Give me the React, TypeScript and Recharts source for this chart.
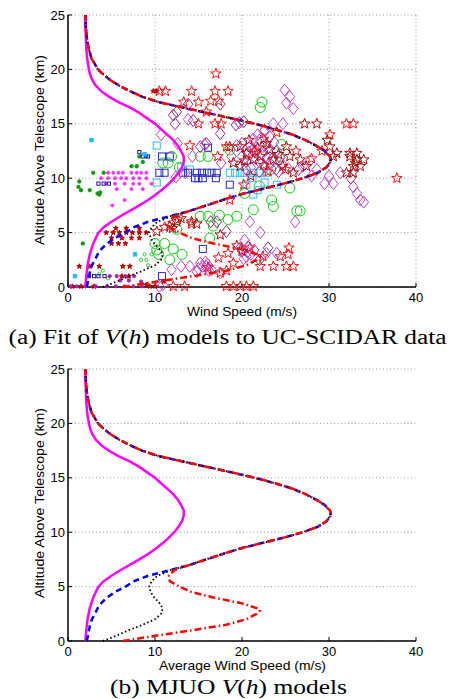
import React from "react";
import { CartesianGrid, Scatter, ScatterChart, XAxis, YAxis } from "recharts";

// model profiles: altitude (km) vs wind speed (m/s)
const upperAlt = [6.5, 7, 7.5, 8, 8.5, 9, 9.5, 10, 10.5, 11, 11.5, 11.8, 12, 12.5, 13, 13.5, 14, 14.5, 15, 15.5, 16, 16.5, 17, 17.5, 18, 18.5, 19, 19.5, 20, 21, 22, 23, 24, 25];
const upperSpeed = [11.7, 14.0, 15.9, 17.8, 19.8, 22.3, 24.8, 27.0, 28.7, 29.7, 30.15, 30.2, 30.1, 29.5, 28.5, 27.3, 25.8, 23.8, 21.5, 18.8, 16.0, 13.2, 10.4, 8.5, 7.1, 5.9, 4.9, 4.1, 3.45, 2.7, 2.35, 2.15, 2.05, 2.0];

const blueLowAlt = [0, 0.5, 1, 1.5, 2, 2.5, 3, 3.5, 4, 4.5, 5, 5.5, 6];
const blueLowSpeed = [2.15, 2.3, 2.4, 2.55, 2.75, 3.1, 3.4, 3.85, 4.5, 5.4, 6.6, 7.6, 9.2];

const blackLowAlt = [0, 0.5, 1, 1.5, 2, 2.5, 3, 3.5, 4, 4.5, 5, 5.5, 6, 6.3];
const blackLowSpeed = [4.0, 5.6, 7.0, 8.6, 10.0, 10.7, 10.9, 10.5, 9.9, 9.5, 9.35, 9.6, 10.3, 11.3];

const redLowAlt = [0, 0.5, 1, 1.5, 2, 2.5, 2.8, 3, 3.5, 4, 4.5, 5, 5.5, 6, 6.5, 7];
const redLowSpeed = [6.3, 10.2, 14.4, 18.2, 20.5, 21.7, 22.05, 21.8, 19.8, 16.7, 14.2, 12.8, 11.7, 11.6, 12.2, 14.0];

const magentaAlt = [0, 1, 2, 3, 4, 4.5, 5, 5.5, 6, 6.5, 7, 7.5, 8, 8.5, 9, 9.5, 10, 10.5, 11, 11.5, 12, 12.5, 13, 13.5, 14, 14.5, 15, 15.5, 16, 16.5, 17, 17.5, 18, 18.5, 19, 19.5, 20, 21, 22, 23, 24, 25];
const magentaSpeed = [2.0, 2.1, 2.25, 2.5, 2.9, 3.2, 3.5, 4.1, 5.0, 6.0, 7.1, 8.2, 9.2, 10.1, 10.9, 11.6, 12.2, 12.7, 13.1, 13.3, 13.3, 13.0, 12.6, 12.1, 11.4, 10.7, 10.0, 9.1, 8.2, 7.1, 5.8, 4.7, 3.8, 3.2, 2.8, 2.55, 2.4, 2.2, 2.1, 2.05, 2.0, 2.0];

// UC-SCIDAR measurements: [speed, altitude]
const redStars = [[17.0, 19.6], [10.5, 18.0], [11.2, 18.0], [14.2, 18.0], [16.9, 18.0], [18.4, 18.0], [13.3, 17.0], [15.0, 17.0], [16.4, 17.1], [17.3, 17.1], [15.9, 16.1], [15.0, 15.0], [16.9, 15.0], [17.6, 15.0], [14.0, 13.0], [17.2, 12.0], [18.2, 12.9], [32.0, 15.0], [32.8, 15.0], [30.1, 14.0], [37.8, 10.0], [18.6, 8.0], [25.4, 3.6], [25.3, 3.0], [22.1, 1.9], [23.6, 1.9], [25.1, 1.9], [25.9, 1.9], [18.4, 3.1], [17.3, 2.7], [19.0, 2.2], [17.5, 1.3], [18.2, 1.5], [12.1, 0.06], [13.4, 0.06], [18.2, 0.06], [19.0, 0.06], [19.8, 0.06], [20.5, 0.06], [21.3, 0.06], [22.4, 2.8], [24.4, 2.8], [20.9, 3.6], [16.1, 1.8], [14.2, 5.8], [12.6, 6.2], [22.5, 13.6], [24.0, 14.2], [21.5, 12.5], [26.2, 12.5], [23.0, 10.6], [25.0, 10.8], [28.0, 11.8], [29.2, 12.5], [20.2, 9.4], [11.1, 5.5]];
const darkRedStars = [[12.5, 6.0], [11.7, 5.6], [14.2, 6.0], [14.8, 5.8], [10.2, 5.1], [12.0, 5.4], [13.0, 6.3], [19.8, 12.9], [20.5, 12.3], [21.3, 11.7], [19.0, 11.4], [19.8, 11.1], [22.1, 12.0], [22.8, 13.2], [23.6, 11.7], [24.7, 11.1], [25.5, 12.0], [25.9, 10.5], [26.7, 11.7], [27.4, 11.1], [25.1, 12.9], [32.4, 12.0], [33.2, 11.7], [34.0, 11.7], [32.8, 11.1], [33.6, 11.1], [32.0, 10.5], [32.8, 10.5], [32.4, 12.3], [33.2, 12.3], [33.0, 11.4], [30.5, 12.0], [30.9, 12.3], [30.1, 12.9], [27.2, 15.0], [28.6, 15.0], [29.8, 13.5], [18.6, 12.9], [21.0, 10.2], [23.2, 12.6], [20.8, 13.5], [17.5, 4.8], [20.0, 3.3], [19.4, 3.8], [21.8, 12.8], [22.5, 11.2], [24.2, 12.2], [20.3, 11.6]];
const smallRedStars = [[4.4, 5.0], [5.2, 5.0], [5.9, 5.0], [6.7, 5.0], [7.4, 5.0], [8.2, 5.0], [9.0, 5.0], [5.0, 4.5], [6.2, 4.5], [7.3, 4.5], [8.2, 4.5], [5.0, 4.0], [5.8, 4.0], [6.6, 4.0], [5.5, 5.4], [6.7, 5.4], [8.2, 5.4], [1.3, 1.9], [2.5, 1.9], [3.6, 1.9], [6.3, 1.9], [7.1, 1.9], [6.2, 1.0], [7.0, 1.0], [9.8, 18.0], [10.2, 18.0], [0.5, 0.06], [1.5, 0.06], [3.0, 0.06], [9.4, 0.06], [10.0, 0.06], [11.0, 0.5], [9.0, 0.2]];
const magentaDots = [[4.6, 10.5], [5.2, 10.5], [5.8, 10.5], [6.3, 10.5], [7.3, 10.5], [7.9, 10.5], [8.4, 10.5], [9.0, 10.5], [3.8, 10.0], [4.6, 10.0], [5.4, 10.0], [6.1, 10.0], [6.7, 10.0], [7.5, 10.0], [8.2, 10.0], [9.0, 10.0], [4.4, 9.5], [5.4, 9.5], [6.5, 9.5], [7.5, 9.5], [8.2, 9.5], [9.6, 9.5], [5.6, 9.0], [7.3, 9.0], [8.6, 9.0], [6.5, 8.0], [5.1, 7.5]];
const greenDots = [[1.2, 9.2], [1.5, 8.9], [1.3, 9.7], [2.5, 8.9], [2.9, 10.5], [3.6, 8.5], [3.7, 8.7], [4.1, 10.5], [1.7, 4.0], [7.3, 11.1], [7.9, 11.1], [8.6, 11.5], [9.0, 12.0], [8.2, 12.0], [3.4, 8.6]];
const lightGreenDots = [[8.4, 2.5], [9.0, 2.5], [9.6, 3.0], [8.8, 3.0], [9.2, 2.0], [4.0, 1.5], [4.6, 0.8], [3.6, 1.2]];
const navyDots = [[3.5, 9.5], [4.1, 9.5], [4.7, 9.5], [8.2, 12.4], [8.6, 12.0], [9.2, 12.0], [2.4, 1.0], [3.0, 1.0], [3.5, 1.0], [4.2, 1.0]];
const cyanDots = [[2.7, 13.5], [7.7, 3.0], [0.8, 1.0], [8.8, 12.2]];
const purpleDots = [[3.2, 0.06], [4.5, 0.06], [5.5, 0.06], [6.5, 0.06], [7.5, 0.06], [8.5, 0.06], [4.8, 1.0], [5.6, 1.0], [6.6, 1.0], [7.6, 1.0], [8.4, 0.5], [0.3, 0.06], [1.0, 0.06], [2.0, 0.06], [6.0, 0.6], [7.0, 0.6]];
const blueSquares = [[10.5, 10.5], [11.1, 10.5], [13.2, 10.5], [13.8, 10.5], [14.8, 10.5], [15.4, 10.5], [16.0, 10.5], [16.5, 10.5], [17.1, 10.5], [15.0, 10.0], [15.5, 10.0], [17.0, 10.0], [18.6, 9.4], [10.8, 12.0], [11.7, 12.0], [16.1, 12.8], [15.5, 3.5], [10.8, 1.0], [14.6, 10.0]];
const cyanSquares = [[18.6, 10.5], [19.2, 10.5], [19.8, 10.5], [20.3, 10.5], [21.3, 10.5], [22.1, 10.5], [22.8, 10.5], [20.5, 9.4], [21.2, 10.0], [22.6, 9.6], [10.2, 13.0], [10.2, 9.6], [21.3, 8.5], [13.0, 11.0], [14.0, 10.8], [24.0, 9.4], [21.8, 8.9]];
const greenCircles = [[22.3, 17.0], [22.1, 16.5], [24.5, 13.1], [18.6, 12.6], [11.9, 12.0], [15.2, 12.0], [16.1, 12.0], [10.9, 11.4], [11.5, 11.4], [20.3, 8.6], [21.3, 7.1], [23.4, 8.0], [23.6, 7.4], [25.5, 9.1], [26.3, 7.0], [26.7, 7.0], [15.2, 6.5], [16.1, 6.5], [19.4, 6.5], [16.7, 5.6], [18.4, 6.2], [16.3, 4.5], [10.0, 4.0], [11.1, 4.0], [10.2, 3.4], [12.1, 3.5], [13.1, 3.0], [10.4, 3.0], [12.5, 5.3], [11.7, 2.5], [23.3, 10.8], [24.3, 12.0], [22.0, 9.3], [12.8, 11.0], [17.4, 6.6]];
const magentaDiamonds = [[24.9, 18.1], [25.5, 17.5], [25.1, 16.9], [25.9, 16.4], [13.8, 15.4], [10.7, 14.0], [15.7, 13.1], [23.6, 15.0], [24.7, 15.0], [20.0, 12.0], [20.5, 11.5], [21.0, 13.0], [21.5, 12.5], [22.0, 13.5], [22.3, 12.2], [22.7, 11.0], [23.0, 12.8], [23.5, 11.8], [24.0, 12.5], [21.0, 11.0], [22.0, 11.5], [24.6, 11.3], [25.3, 10.9], [20.0, 13.2], [21.8, 14.0], [22.5, 14.3], [23.7, 13.3], [20.8, 12.4], [21.6, 11.8], [22.4, 12.9], [23.2, 13.8], [21.3, 13.6], [22.9, 11.9], [20.4, 10.9], [24.4, 11.9], [23.9, 10.8], [27.0, 11.1], [28.6, 10.8], [29.5, 9.5], [30.5, 9.5], [31.3, 10.5], [32.8, 9.2], [33.2, 8.6], [33.6, 8.0], [34.0, 7.8], [28.0, 10.2], [30.0, 10.2], [27.8, 11.6], [20.9, 6.0], [22.1, 5.0], [26.1, 6.0], [20.3, 4.3], [20.7, 3.7], [22.8, 3.1], [24.0, 3.1], [20.0, 3.3], [21.0, 3.0], [20.5, 2.8], [19.8, 3.6], [20.6, 3.2], [21.4, 3.4], [20.2, 2.6], [11.9, 1.6], [13.0, 1.9], [14.0, 1.9], [15.2, 2.2], [15.5, 1.9], [15.9, 1.9], [16.5, 1.6], [17.5, 1.3], [14.8, 1.4], [15.8, 2.3], [16.2, 1.5], [15.0, 1.7], [16.0, 2.1], [10.5, 0.06], [10.9, 0.2], [12.6, 13.2], [13.5, 10.5], [12.4, 10.1], [14.3, 12.0], [17.6, 11.4], [19.4, 13.0], [18.8, 12.0]];
const purpleDiamonds = [[12.5, 16.1], [12.1, 15.8], [17.5, 14.1], [20.2, 15.2], [15.2, 12.9], [15.9, 13.2], [16.4, 6.0], [18.2, 5.1], [17.1, 6.0], [13.8, 16.8], [12.3, 15.0], [17.5, 16.8], [19.3, 14.9], [22.6, 14.4], [21.2, 12.6], [23.2, 11.4], [22.0, 10.6], [24.2, 10.6], [26.5, 10.8], [32.5, 10.0], [23.0, 3.6], [22.0, 2.5], [19.7, 15.1], [14.4, 15.3]];

const xTicks = [0, 10, 20, 30, 40];
const yTicks = [0, 5, 10, 15, 20, 25];

const toPts = (list: number[][]) => list.map(([v, h]) => ({ v, h }));
const toCurve = (alt: number[], speed: number[]) => alt.map((h, i) => ({ v: speed[i], h }));

const blueCurve = [...toCurve(blueLowAlt, blueLowSpeed), ...toCurve(upperAlt, upperSpeed)];
const blackCurve = [...toCurve(blackLowAlt, blackLowSpeed), ...toCurve(upperAlt, upperSpeed)];
const redCurve = [...toCurve(redLowAlt, redLowSpeed), ...toCurve(upperAlt.slice(1), upperSpeed.slice(1))];
const magentaCurve = toCurve(magentaAlt, magentaSpeed);

const FONT = "Liberation Sans";

function star(size: number, color: string, filled = false) {
    return (p: any) => {
        const pts: string[] = [];
        for (let i = 0; i < 10; i++) {
            const r = i % 2 === 0 ? size : size * 0.42;
            const a = -Math.PI / 2 + (i * Math.PI) / 5;
            pts.push(`${p.cx + r * Math.cos(a)},${p.cy + r * Math.sin(a)}`);
        }
        return <polygon points={pts.join(" ")} fill={filled ? color : "none"} stroke={color} strokeWidth={1} />;
    };
}

function diamond(size: number, color: string) {
    return (p: any) => (
        <polygon
            points={`${p.cx},${p.cy - size} ${p.cx + size * 0.8},${p.cy} ${p.cx},${p.cy + size} ${p.cx - size * 0.8},${p.cy}`}
            fill="none"
            stroke={color}
            strokeWidth={1}
        />
    );
}

function square(size: number, color: string, filled = false) {
    return (p: any) => (
        <rect x={p.cx - size} y={p.cy - size} width={size * 2} height={size * 2} fill={filled ? color : "none"} stroke={color} strokeWidth={1} />
    );
}

function circle(r: number, color: string, filled = false) {
    return (p: any) => <circle cx={p.cx} cy={p.cy} r={r} fill={filled ? color : "none"} stroke={color} strokeWidth={1} />;
}

const noMarker = () => <g />;

function curves() {
    return [
        <Scatter key="m" data={magentaCurve} shape={noMarker} line={{ stroke: "#ff00ff", strokeWidth: 2.5 }} lineType="joint" isAnimationActive={false} />,
        <Scatter key="b" data={blueCurve} shape={noMarker} line={{ stroke: "#0000ff", strokeWidth: 2.5, strokeDasharray: "6 4" }} lineType="joint" isAnimationActive={false} />,
        <Scatter key="k" data={blackCurve} shape={noMarker} line={{ stroke: "#000000", strokeWidth: 1.8, strokeDasharray: "1.5 2.5" }} lineType="joint" isAnimationActive={false} />,
        <Scatter key="r" data={redCurve} shape={noMarker} line={{ stroke: "#ff0000", strokeWidth: 2.5, strokeDasharray: "7 3 1.5 3" }} lineType="joint" isAnimationActive={false} />,
    ];
}

function axes(vertical: boolean) {
    const tick = { fontSize: 13, fill: "#000", fontFamily: FONT };
    return [
        <CartesianGrid key="g" stroke="#9a9a9a" strokeDasharray="1 2.5" vertical={vertical} />,
        <XAxis
            key="x"
            dataKey="v"
            type="number"
            domain={[0, 40]}
            ticks={xTicks}
            height={32}
            tickSize={-4}
            tickMargin={10}
            tick={tick}
            axisLine={{ stroke: "#000", strokeWidth: 1.5 }}
            tickLine={{ stroke: "#000" }}
        />,
        <YAxis
            key="y"
            dataKey="h"
            type="number"
            domain={[0, 25]}
            ticks={yTicks}
            width={68}
            tickSize={-4}
            tickMargin={7}
            tick={tick}
            axisLine={{ stroke: "#000", strokeWidth: 1.5 }}
            tickLine={{ stroke: "#000" }}
        />,
        <XAxis key="xt" xAxisId="top" orientation="top" type="number" domain={[0, 40]} ticks={xTicks} height={0} tick={false} tickSize={-4} axisLine={{ stroke: "#000", strokeWidth: 1.5 }} tickLine={{ stroke: "#000" }} />,
        <YAxis key="yr" yAxisId="right" orientation="right" type="number" domain={[0, 25]} ticks={yTicks} width={0} tick={false} tickSize={-4} axisLine={{ stroke: "#000", strokeWidth: 1.5 }} tickLine={{ stroke: "#000" }} />,
    ];
}

const MARGIN = { top: 15, right: 35, bottom: 3, left: 0 };

function PanelA() {
    return (
        <ScatterChart width={451} height={322} margin={MARGIN}>
            {axes(true)}
            <Scatter data={toPts(greenCircles)} shape={circle(5, "#11cc11")} isAnimationActive={false} />
            <Scatter data={toPts(cyanSquares)} shape={square(3.5, "#33bbff")} isAnimationActive={false} />
            <Scatter data={toPts(blueSquares)} shape={square(3.5, "#2a2acc")} isAnimationActive={false} />
            <Scatter data={toPts(purpleDiamonds)} shape={diamond(6, "#8e2a8e")} isAnimationActive={false} />
            <Scatter data={toPts(magentaDiamonds)} shape={diamond(6, "#c040c8")} isAnimationActive={false} />
            <Scatter data={toPts(redStars)} shape={star(5.5, "#ff1010")} isAnimationActive={false} />
            <Scatter data={toPts(darkRedStars)} shape={star(5.5, "#aa0a0a")} isAnimationActive={false} />
            <Scatter data={toPts(smallRedStars)} shape={star(2.6, "#b80000", true)} isAnimationActive={false} />
            <Scatter data={toPts(magentaDots)} shape={circle(1.5, "#ff33ff", true)} isAnimationActive={false} />
            <Scatter data={toPts(greenDots)} shape={circle(1.7, "#119911", true)} isAnimationActive={false} />
            <Scatter data={toPts(lightGreenDots)} shape={circle(1.6, "#33cc33")} isAnimationActive={false} />
            <Scatter data={toPts(navyDots)} shape={square(1.6, "#1a1a99")} isAnimationActive={false} />
            <Scatter data={toPts(cyanDots)} shape={square(1.7, "#22bbff", true)} isAnimationActive={false} />
            <Scatter data={toPts(purpleDots)} shape={circle(1.6, "#aa22aa", true)} isAnimationActive={false} />
            {curves()}
        </ScatterChart>
    );
}

function PanelB() {
    return (
        <ScatterChart width={451} height={322} margin={MARGIN}>
            {axes(false)}
            {curves()}
        </ScatterChart>
    );
}

const captionStyle: React.CSSProperties = {
    fontFamily: "'Liberation Serif', 'DejaVu Serif', serif",
    fontSize: 20,
    fill: "#000",
};

const labelStyle: React.CSSProperties = { fontFamily: FONT, fontSize: 13.5, fill: "#000" };

export default function App() {
    return (
        <div style={{ position: "relative", width: 451, height: 699, background: "#fff", overflow: "hidden" }}>
            <style>{"body{margin:0}"}</style>
            <div style={{ position: "absolute", left: 0, top: 0 }}>
                <PanelA />
            </div>
            <div style={{ position: "absolute", left: 0, top: 354 }}>
                <PanelB />
            </div>
            <svg width={451} height={699} style={{ position: "absolute", left: 0, top: 0, pointerEvents: "none" }}>
                <text x={242} y={316} textAnchor="middle" textLength={110} lengthAdjust="spacingAndGlyphs" style={labelStyle}>
                    Wind Speed (m/s)
                </text>
                <text x={0} y={0} textAnchor="middle" dominantBaseline="central" textLength={190} lengthAdjust="spacingAndGlyphs" transform="translate(39.5 150) rotate(-90)" style={labelStyle}>
                    Altitude Above Telescope (km)
                </text>
                <text x={242.5} y={670} textAnchor="middle" textLength={167} lengthAdjust="spacingAndGlyphs" style={labelStyle}>
                    Average Wind Speed (m/s)
                </text>
                <text x={0} y={0} textAnchor="middle" dominantBaseline="central" textLength={190} lengthAdjust="spacingAndGlyphs" transform="translate(39.5 503) rotate(-90)" style={labelStyle}>
                    Altitude Above Telescope (km)
                </text>
                <text x={227.5} y={344} textAnchor="middle" textLength={438} lengthAdjust="spacingAndGlyphs" style={captionStyle}>
                    (a) Fit of <tspan fontStyle="italic">V</tspan>(<tspan fontStyle="italic">h</tspan>) models to UC-SCIDAR data
                </text>
                <text x={228.5} y={694} textAnchor="middle" textLength={237} lengthAdjust="spacingAndGlyphs" style={captionStyle}>
                    (b) MJUO <tspan fontStyle="italic">V</tspan>(<tspan fontStyle="italic">h</tspan>) models
                </text>
            </svg>
        </div>
    );
}
